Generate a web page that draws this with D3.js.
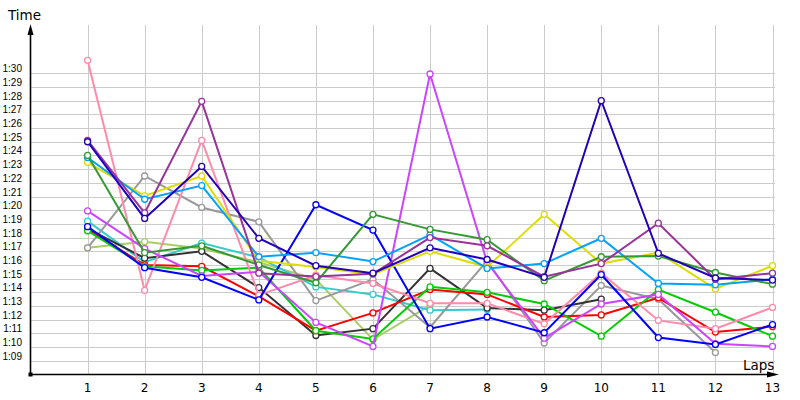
<!DOCTYPE html>
<html>
<head>
<meta charset="utf-8">
<script src="https://cdn.jsdelivr.net/npm/d3@7"></script>
<style>
  body { margin: 0; background: #fff; }
  svg { display: block; }
</style>
</head>
<body>
<svg></svg>
<script>
// lap numbers and y tick labels
var laps = [1,2,3,4,5,6,7,8,9,10,11,12,13];
var yTicks = [69,70,71,72,73,74,75,76,77,78,79,80,81,82,83,84,85,86,87,88,89,90];

// lap times in seconds (1:25 -> 85)
var pink      = [90.95, 74.15, 85.1, 73.8, 75.25, 74.65, 73.2, 73.2, 71.7, 75.4, 71.95, 71.35, 72.9];
var purple    = [85.1, 79.8, 87.95, 75.4, 75.15, 75.35, 78.0, 77.4, 75.15, 76.1, 79.05, 74.95, 75.4];
var darkBlue  = [85.0, 79.4, 83.2, 77.95, 75.95, 75.4, 77.25, 76.4, 75.1, 88.0, 76.85, 75.05, 74.9];
var violet    = [79.95, 77.2, 75.2, 75.5, 71.8, 70.05, 89.95, 76.2, 70.65, 73.15, 73.85, 70.25, 70.05];
var blue      = [78.8, 75.8, 75.1, 73.45, 80.4, 78.55, 71.35, 72.2, 71.05, 75.3, 70.7, 70.2, 71.65];
var lightBlue = [83.85, 80.8, 81.8, 76.6, 76.9, 76.25, 78.2, 75.75, 76.1, 77.95, 74.65, 74.55, 74.95];
var yellow    = [83.5, 81.05, 82.5, 76.3, 75.85, 75.3, 77.0, 75.85, 79.7, 76.1, 76.9, 74.25, 75.95];
var darkGreen = [84.0, 76.9, 77.4, 76.0, 74.7, 79.7, 78.6, 77.85, 74.85, 76.6, 76.65, 75.45, 74.6];
var green     = [78.5, 75.9, 75.6, 75.8, 71.2, 70.6, 74.4, 74.0, 73.15, 70.8, 74.2, 72.55, 70.8];
var red       = [78.6, 76.0, 75.9, 73.7, 71.2, 72.5, 74.2, 73.85, 72.2, 72.35, 73.6, 71.1, 71.5];
var gray      = [77.25, 82.5, 80.2, 79.15, 73.4, 74.95, 71.45, 76.3, 70.3, 74.5, 73.5, 69.6];
var darkGray  = [78.65, 76.5, 77.0, 74.35, 70.85, 71.35, 75.75, 72.85, 72.7, 73.5];
var olive     = [77.25, 77.7, 77.2, 76.2, 74.95, 70.55, 73.05];
var cyan      = [79.2, 76.2, 77.6, 76.55, 74.4, 73.85, 72.7, 72.75];

var series = [
  {color: "#aacc66", values: olive},
  {color: "#33cccc", values: cyan},
  {color: "#999999", values: gray},
  {color: "#333333", values: darkGray},
  {color: "#ff0000", values: red},
  {color: "#00cc00", values: green},
  {color: "#ff8aaa", values: pink},
  {color: "#cc44ff", values: violet},
  {color: "#0000ff", values: blue},
  {color: "#dddd00", values: yellow},
  {color: "#00a2ff", values: lightBlue},
  {color: "#339933", values: darkGreen},
  {color: "#993399", values: purple},
  {color: "#2200bb", values: darkBlue}
];

var screen = {width: 800, height: 400};

var xScale = d3.scaleLinear()
               .domain([0, 13])
               .range([30.5, 772.5]);

var yScale = d3.scaleLinear()
               .domain([68, 90])
               .range([374.5, 73.3]);

var svg = d3.select("svg")
            .attr("width", screen.width)
            .attr("height", screen.height);

var fmt = function(s) {
  var m = Math.floor(s / 60), r = Math.round(s - m * 60);
  return m + ":" + (r < 10 ? "0" + r : r);
};

//grid
svg.append("g")
   .selectAll("line")
   .data(yTicks)
   .enter()
   .append("line")
   .attr("x1", xScale(0))
   .attr("x2", 775)
   .attr("y1", function(d) {return Math.round(yScale(d)) + 0.5;})
   .attr("y2", function(d) {return Math.round(yScale(d)) + 0.5;})
   .attr("stroke", "#cccccc")
   .attr("stroke-width", 1);

svg.append("g")
   .selectAll("line")
   .data(laps)
   .enter()
   .append("line")
   .attr("x1", function(d) {return Math.round(xScale(d)) + 0.5;})
   .attr("x2", function(d) {return Math.round(xScale(d)) + 0.5;})
   .attr("y1", 25)
   .attr("y2", yScale(68))
   .attr("stroke", "#cccccc")
   .attr("stroke-width", 1);

//y tick labels
svg.append("g")
   .selectAll("text")
   .data(yTicks)
   .enter()
   .append("text")
   .attr("x", 22)
   .attr("y", function(d) {return yScale(d) - 1;})
   .attr("text-anchor", "end")
   .style("font-family", "Liberation Sans, Arial, sans-serif")
   .style("font-size", "10px")
   .attr("fill", "#000")
   .text(fmt);

//x tick labels
svg.append("g")
   .selectAll("text")
   .data(laps)
   .enter()
   .append("text")
   .attr("x", function(d) {return xScale(d);})
   .attr("y", 391.5)
   .attr("text-anchor", "middle")
   .style("font-family", "DejaVu Sans, sans-serif")
   .style("font-size", "12px")
   .attr("fill", "#000")
   .text(function(d) {return d;});

//lines
var line = d3.line()
             .x(function(d, i) {return xScale(laps[i]);})
             .y(function(d) {return yScale(d);});

var groups = svg.append("g")
                .selectAll("g")
                .data(series)
                .enter()
                .append("g");

groups.append("path")
      .attr("d", function(d) {return line(d.values);})
      .attr("fill", "none")
      .attr("stroke", function(d) {return d.color;})
      .attr("stroke-width", 2);

groups.selectAll("circle")
      .data(function(d) {return d.values.map(function(v, i) {return {lap: laps[i], v: v, color: d.color};});})
      .enter()
      .append("circle")
      .attr("cx", function(d) {return xScale(d.lap);})
      .attr("cy", function(d) {return yScale(d.v);})
      .attr("r", 3)
      .attr("fill", "#fff")
      .attr("stroke", function(d) {return d.color;})
      .attr("stroke-width", 1.3);

//axes with arrows
var axisY = yScale(68);
svg.append("line")
   .attr("x1", xScale(0)).attr("x2", xScale(0))
   .attr("y1", axisY).attr("y2", 32)
   .attr("stroke", "#000").attr("stroke-width", 1.6);
svg.append("path")
   .attr("d", "M" + (xScale(0) - 3) + ",35 L" + xScale(0) + ",24 L" + (xScale(0) + 3) + ",35 Z")
   .attr("fill", "#000");

svg.append("line")
   .attr("x1", xScale(0)).attr("x2", 770)
   .attr("y1", axisY).attr("y2", axisY)
   .attr("stroke", "#000").attr("stroke-width", 1.6);
svg.append("path")
   .attr("d", "M767," + (axisY - 3) + " L779," + axisY + " L767," + (axisY + 3) + " Z")
   .attr("fill", "#000");

svg.append("rect")
   .attr("x", xScale(0) - 2).attr("y", axisY - 2)
   .attr("width", 4).attr("height", 4)
   .attr("fill", "#000");

//axis titles
svg.append("text")
   .attr("x", 8).attr("y", 20)
   .style("font-family", "DejaVu Sans, sans-serif")
   .style("font-size", "13.5px")
   .attr("fill", "#000")
   .text("Time");

svg.append("text")
   .attr("x", 743).attr("y", 370)
   .style("font-family", "DejaVu Sans, sans-serif")
   .style("font-size", "13.5px")
   .attr("fill", "#000")
   .text("Laps");
</script>
</body>
</html>
